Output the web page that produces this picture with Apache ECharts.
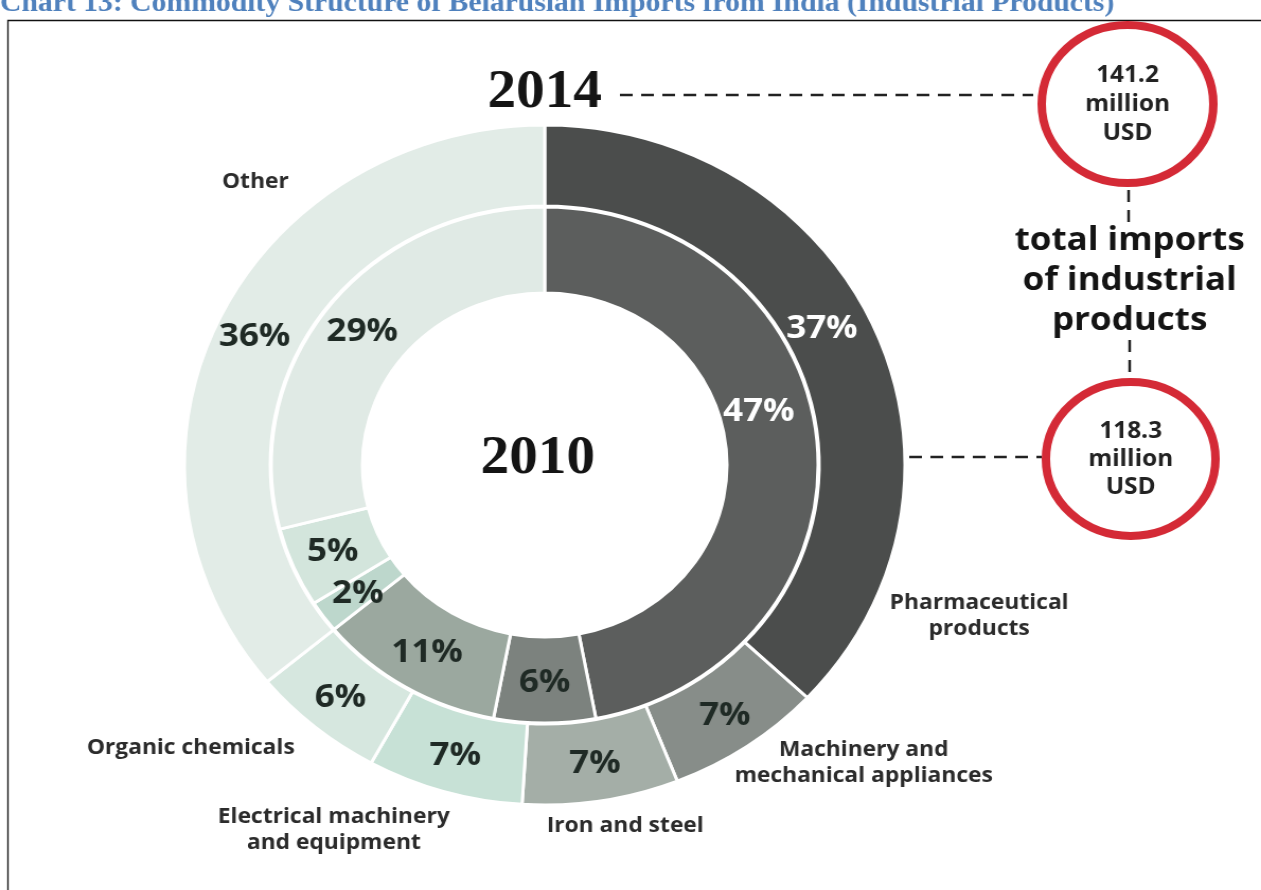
<!DOCTYPE html>
<html>
<head>
<meta charset="utf-8">
<title>Commodity Structure of Belarusian Imports from India (Industrial Products)</title>
<script src="https://cdn.jsdelivr.net/npm/echarts@6/dist/echarts.min.js"></script>
<style>
  html, body { margin: 0; padding: 0; background: #ffffff; overflow: hidden; }
  /* the artwork is drawn slightly wider than tall, so the chart canvas is stretched horizontally */
  #chart { width: 1190px; height: 890px; transform: scaleX(1.0597); transform-origin: 0 0; }
</style>
</head>
<body>
<div id="chart"></div>
<script>
// ---- data ----
const titleText = 'Chart 13: Commodity Structure of Belarusian Imports from India (Industrial Products)';
const categories = [
  'Pharmaceutical products',
  'Machinery and mechanical appliances',
  'Iron and steel',
  'Electrical machinery and equipment',
  'Organic chemicals',
  'Other'
];
// two-line versions of the category names for the annotations
const categoryLabels = [
  'Pharmaceutical\nproducts',
  'Machinery and\nmechanical appliances',
  'Iron and steel',
  'Electrical machinery\nand equipment',
  'Organic chemicals',
  'Other'
];
const years = ['2014', '2010'];
const share2014 = [37, 7, 7, 7, 6, 36];   // outer ring, %
const share2010 = [47, 6, 11, 2, 5, 29];  // inner ring, %
const totalImports = [141.2, 118.3];      // million USD, for 2014 and 2010

// ---- styling ----
const outerColors = ['#4b4d4c', '#878d89', '#a4aea7', '#c7e1d6', '#d6e7df', '#e2ece7'];
const innerColors = ['#5c5e5d', '#7c827e', '#9ba89f', '#bdd7cc', '#d3e5dc', '#e0eae5'];
const darkText = '#1f2a25';
const sansFont = '"Open Sans", "Noto Sans", sans-serif';
const serifFont = '"Liberation Serif", "DejaVu Serif", serif';

// nudges for the two labels on the large pharmaceutical segments
const outerLabelShift = { 0: [-16, -16] };
const innerLabelShift = { 0: [-15, -33] };

const cx = 514, cy = 465;

function ringData(values, colors, shifts) {
  return values.map((v, i) => ({
    name: categories[i],
    value: v,
    itemStyle: { color: colors[i] },
    label: {
      color: i === 0 ? '#ffffff' : darkText,
      offset: shifts[i] || [0, 0]
    }
  }));
}

const pieBase = {
  type: 'pie',
  center: [cx, cy],
  startAngle: 90,
  clockwise: true,
  silent: true,
  avoidLabelOverlap: false,
  itemStyle: { borderColor: '#ffffff', borderWidth: 3 },
  label: {
    show: true,
    position: 'inside',
    formatter: '{c}%',
    fontFamily: sansFont,
    fontWeight: 'bold',
    fontSize: 33
  },
  labelLine: { show: false },
  emphasis: { disabled: true }
};

const dash = { stroke: '#222222', lineWidth: 2.5, lineDash: [12, 8] };
const ringRed = '#d42a36';

// category annotation positions around the rings
const categoryPos = [
  [924, 616], [815, 763], [590, 826], [315, 830], [180, 748], [241, 182]
];

const graphics = [
  // title, partly cropped at the top edge
  { type: 'text', x: 0, y: 18, z: 10,
    style: { text: titleText, font: 'bold 28px ' + serifFont, fill: '#4f81bd', verticalAlign: 'bottom' } },
  // frame
  { type: 'rect', z: 0, shape: { x: 7.5, y: 20.5, width: 1400, height: 1000 },
    style: { fill: null, stroke: '#111111', lineWidth: 1.3 } },
  // year captions
  { type: 'text', x: 514, y: 93, z: 10,
    style: { text: years[0], font: 'bold 54px ' + serifFont, fill: '#141414', align: 'center', verticalAlign: 'middle' } },
  { type: 'text', x: 507.5, y: 459, z: 10,
    style: { text: years[1], font: 'bold 54px ' + serifFont, fill: '#141414', align: 'center', verticalAlign: 'middle' } },
  // leader lines
  { type: 'line', z: 5, shape: { x1: 585, y1: 95, x2: 975, y2: 95 }, style: dash },
  { type: 'line', z: 5, shape: { x1: 858, y1: 457, x2: 983, y2: 457 }, style: dash },
  { type: 'line', z: 5, shape: { x1: 1065, y1: 190, x2: 1065, y2: 226 }, style: dash },
  { type: 'line', z: 5, shape: { x1: 1066, y1: 340, x2: 1066, y2: 378 }, style: dash },
  // total circles
  { type: 'ellipse', z: 6, shape: { cx: 1064, cy: 104, rx: 81, ry: 79 },
    style: { fill: '#ffffff', stroke: ringRed, lineWidth: 8 } },
  { type: 'ellipse', z: 6, shape: { cx: 1067, cy: 459, rx: 80, ry: 77 },
    style: { fill: '#ffffff', stroke: ringRed, lineWidth: 8 } },
  { type: 'text', x: 1064, y: 104, z: 10,
    style: { text: totalImports[0] + '\nmillion\nUSD', font: 'bold 23px ' + sansFont, fill: '#222222',
             align: 'center', verticalAlign: 'middle', lineHeight: 29 } },
  { type: 'text', x: 1067, y: 459, z: 10,
    style: { text: totalImports[1] + '\nmillion\nUSD', font: 'bold 23px ' + sansFont, fill: '#222222',
             align: 'center', verticalAlign: 'middle', lineHeight: 28 } },
  { type: 'text', x: 1066, y: 281, z: 10,
    style: { text: 'total imports\nof industrial\nproducts', font: 'bold 33px ' + sansFont, fill: '#141414',
             align: 'center', verticalAlign: 'middle', lineHeight: 40 } }
];

categoryLabels.forEach((t, i) => {
  graphics.push({
    type: 'text', x: categoryPos[i][0], y: categoryPos[i][1], z: 10,
    style: { text: t, font: 'bold 21.5px ' + sansFont, fill: '#2b2b2b',
             align: 'center', verticalAlign: 'middle', lineHeight: 26 }
  });
});

const chart = echarts.init(document.getElementById('chart'), null, { renderer: 'canvas' });
chart.setOption({
  animation: false,
  backgroundColor: '#ffffff',
  series: [
    Object.assign({}, pieBase, {
      name: years[0],
      radius: [259, 340],
      data: ringData(share2014, outerColors, outerLabelShift)
    }),
    Object.assign({}, pieBase, {
      name: years[1],
      radius: [172, 258],
      data: ringData(share2010, innerColors, innerLabelShift)
    })
  ],
  graphic: graphics
});
</script>
</body>
</html>
